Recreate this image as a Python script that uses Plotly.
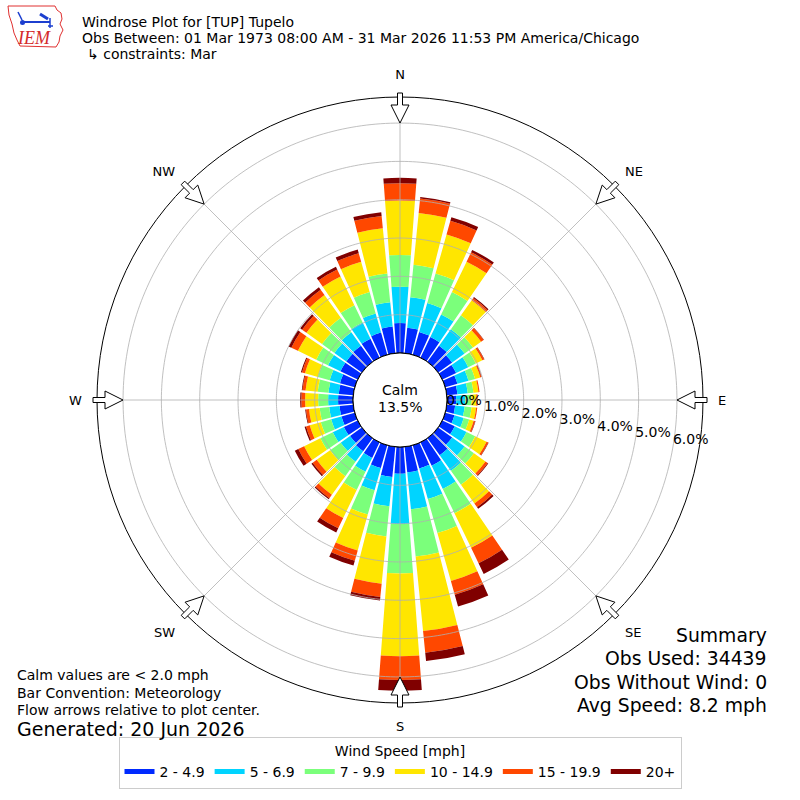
import numpy as np
import plotly.graph_objects as go

FONT = "DejaVu Sans"

directions = list(range(0, 360, 10))
speed_labels = ["2 - 4.9", "5 - 6.9", "7 - 9.9", "10 - 14.9", "15 - 19.9", "20+"]
speed_colors = ["#002aff", "#00d4ff", "#7bff7b", "#ffe600", "#ff4800", "#800000"]

# percent of all obs, per 10 deg direction bin (0, 10, ... 350), one list per speed bin
spd_2_5 = [0.78, 0.67, 0.62, 0.60, 0.52, 0.45, 0.40, 0.33, 0.28, 0.24, 0.22, 0.25,
           0.36, 0.45, 0.55, 0.68, 0.63, 0.67, 0.70, 0.79, 0.62, 0.45, 0.42, 0.38,
           0.40, 0.36, 0.36, 0.39, 0.38, 0.40, 0.50, 0.50, 0.52, 0.55, 0.60, 0.70]
spd_5_7 = [0.95, 0.80, 0.78, 0.65, 0.53, 0.40, 0.35, 0.30, 0.27, 0.24, 0.25, 0.25,
           0.34, 0.40, 0.50, 0.67, 0.83, 0.97, 1.31, 0.77, 0.60, 0.40, 0.34, 0.30,
           0.32, 0.28, 0.27, 0.26, 0.27, 0.28, 0.36, 0.38, 0.43, 0.47, 0.52, 0.64]
spd_7_10 = [0.83, 0.85, 0.80, 0.65, 0.45, 0.27, 0.22, 0.18, 0.15, 0.16, 0.18, 0.15,
            0.25, 0.30, 0.45, 0.70, 0.92, 1.24, 1.29, 0.79, 0.66, 0.53, 0.46, 0.34,
            0.36, 0.28, 0.25, 0.26, 0.28, 0.32, 0.34, 0.40, 0.47, 0.50, 0.58, 0.75]
spd_10_15 = [1.42, 1.36, 1.06, 0.88, 0.48, 0.26, 0.19, 0.14, 0.13, 0.13, 0.12, 0.12,
             0.33, 0.37, 0.60, 1.00, 1.30, 1.95, 2.16, 1.24, 0.97, 0.81, 0.60, 0.43,
             0.47, 0.30, 0.28, 0.34, 0.32, 0.35, 0.53, 0.50, 0.73, 0.83, 0.82, 1.19]
spd_15_20 = [0.45, 0.38, 0.37, 0.27, 0.07, 0.08, 0.05, 0.03, 0.03, 0.03, 0.03, 0.04,
             0.05, 0.07, 0.12, 0.45, 0.37, 0.57, 0.62, 0.35, 0.28, 0.30, 0.11, 0.13,
             0.17, 0.10, 0.08, 0.10, 0.08, 0.08, 0.19, 0.14, 0.17, 0.20, 0.23, 0.32]
spd_20 = [0.14, 0.04, 0.10, 0.07, 0.03, 0.01, 0.01, 0.01, 0.00, 0.00, 0.00, 0.01,
          0.01, 0.02, 0.05, 0.31, 0.32, 0.22, 0.28, 0.09, 0.13, 0.12, 0.03, 0.04,
          0.10, 0.04, 0.02, 0.03, 0.02, 0.03, 0.08, 0.06, 0.08, 0.08, 0.10, 0.10]
series = [spd_2_5, spd_5_7, spd_7_10, spd_10_15, spd_15_20, spd_20]

tick_vals = [0, 1, 2, 3, 4, 5, 6]
tick_text = ["0.0%", "1.0%", "2.0%", "3.0%", "4.0%", "5.0%", "6.0%"]
r_max = 6.68

compass_angles = [0, 45, 90, 135, 180, 225, 270, 315]
compass_labels = ["N", "NE", "E", "SE", "S", "SW", "W", "NW"]

title_lines = ["Windrose Plot for [TUP] Tupelo",
               "Obs Between: 01 Mar 1973 08:00 AM - 31 Mar 2026 11:53 PM America/Chicago",
               "↳ constraints: Mar"]
calm_pct = "13.5%"
notes = ["Calm values are < 2.0 mph", "Bar Convention: Meteorology",
         "Flow arrows relative to plot center."]
generated = "Generated: 20 Jun 2026"
summary = ["Summary", "Obs Used: 34439", "Obs Without Wind: 0", "Avg Speed: 8.2 mph"]

# page geometry (px): polar centre and outer radius
CX, CY, R = 400, 400, 303
HOLE = 47


def paper(x, y):
    return x / 800, 1 - y / 800


fig = go.Figure()

for name, color, vals in zip(speed_labels, speed_colors, series):
    fig.add_trace(go.Barpolar(r=vals, theta=directions, width=8.6, name=name,
                              marker=dict(color=color, line=dict(width=0)),
                              showlegend=False))

# grid drawn over the bars like the original
ring = np.linspace(0, 360, 361)
for v in tick_vals[1:]:
    fig.add_trace(go.Scatterpolar(r=[v] * len(ring), theta=ring, mode="lines",
                                  line=dict(color="#b0b0b0", width=0.8),
                                  showlegend=False, hoverinfo="skip"))
for a in compass_angles:
    fig.add_trace(go.Scatterpolar(r=[0, r_max], theta=[a, a], mode="lines",
                                  line=dict(color="#b0b0b0", width=0.8),
                                  showlegend=False, hoverinfo="skip"))
fig.add_trace(go.Scatterpolar(r=[0] * len(ring), theta=ring, mode="lines",
                              line=dict(color="black", width=1),
                              showlegend=False, hoverinfo="skip"))

# radial tick labels
fig.add_trace(go.Scatterpolar(r=tick_vals, theta=[99.8] * len(tick_vals), mode="text",
                              text=tick_text, textposition="top right",
                              textfont=dict(family=FONT, size=14, color="black"),
                              showlegend=False, hoverinfo="skip"))

# legend entries as wide swatches
for name, color in zip(speed_labels, speed_colors):
    fig.add_trace(go.Scatterpolar(r=[None], theta=[None], mode="lines", name=name,
                                  line=dict(color=color, width=10)))

shapes = []
# flow arrows at the compass points
arrow = [(307, -2.5), (295, -2.5), (295, -9), (277, 0), (295, 9), (295, 2.5), (307, 2.5)]
for a in compass_angles:
    t = np.radians(a)
    pts = []
    for rr, vv in arrow:
        x = CX + rr * np.sin(t) + vv * np.cos(t)
        y = CY - rr * np.cos(t) + vv * np.sin(t)
        pts.append(paper(x, y))
    path = "M" + " L".join(f"{px:.5f},{py:.5f}" for px, py in pts) + " Z"
    shapes.append(dict(type="path", path=path, xref="paper", yref="paper",
                       fillcolor="white", line=dict(color="black", width=1)))

# rough IEM logo
iowa = [(8, 6), (55, 6), (57, 10), (61, 13), (62, 19), (60, 24), (63, 30), (60, 36),
        (59, 42), (56, 47), (20, 46), (17, 40), (14, 33), (12, 24), (9, 15)]
path = "M" + " L".join("%.5f,%.5f" % paper(x, y) for x, y in iowa) + " Z"
shapes.append(dict(type="path", path=path, xref="paper", yref="paper",
                   line=dict(color="#e03030", width=1)))
for (x0, y0, x1, y1, w) in [(22, 22, 50, 22, 2), (18, 12, 22, 20, 1.5), (40, 14, 48, 19, 3),
                            (50, 18, 50, 28, 1.5), (48, 26, 53, 26, 1.5)]:
    a0, b0 = paper(x0, y0)
    a1, b1 = paper(x1, y1)
    shapes.append(dict(type="line", x0=a0, y0=b0, x1=a1, y1=b1, xref="paper", yref="paper",
                       line=dict(color="#1c3fcf", width=w)))
a0, b0 = paper(20, 20)
a1, b1 = paper(25, 25)
shapes.append(dict(type="circle", x0=a0, y0=b0, x1=a1, y1=b1, xref="paper", yref="paper",
                   fillcolor="#1c3fcf", line=dict(width=0)))

annotations = []


def note(text, x, y, size=14, anchor="left", **kw):
    px_, py_ = paper(x, y)
    annotations.append(dict(text=text, x=px_, y=py_, xref="paper", yref="paper",
                            xanchor=anchor, yanchor="middle", showarrow=False,
                            font=dict(family=FONT, size=size, color="black"), **kw))


for i, line in enumerate(title_lines):
    note(line, 84.5 if i == 2 else 80, 22 + 16 * i)
note("<i>IEM</i>", 15, 38, size=18)
annotations[-1]["font"] = dict(family="Liberation Serif", size=18, color="#d42a2a")
note("Calm", CX, 390, anchor="center")
note(calm_pct, CX, 407, anchor="center")
for i, line in enumerate(notes):
    note(line, 15, 675 + 17.5 * i)
note(generated, 15, 729, size=19)
for i, line in enumerate(summary):
    note(line, 769, 635 + 23.5 * i, size=18.8, anchor="right")

dom = [(CX - R) / 800, (CX + R) / 800]
fig.update_layout(
    width=800, height=800,
    margin=dict(l=0, r=0, t=0, b=0),
    paper_bgcolor="white",
    font=dict(family=FONT, size=14, color="black"),
    polar=dict(
        domain=dict(x=dom, y=dom),
        hole=HOLE / R,
        bgcolor="white",
        barmode="stack",
        radialaxis=dict(range=[0, r_max], showgrid=False, showline=False,
                        showticklabels=False, ticks=""),
        angularaxis=dict(rotation=90, direction="clockwise", tickmode="array",
                         tickvals=compass_angles, ticktext=compass_labels,
                         showgrid=False, showline=True, linecolor="black", linewidth=1,
                         ticks="outside", ticklen=12, tickcolor="rgba(0,0,0,0)",
                         tickfont=dict(family=FONT, size=13, color="black")),
    ),
    legend=dict(orientation="h", x=0.5, xanchor="center", y=0.014, yanchor="bottom",
                title=dict(text="Wind Speed [mph]", side="top center",
                           font=dict(family=FONT, size=14)),
                font=dict(family=FONT, size=14),
                bordercolor="#cccccc", borderwidth=1, bgcolor="white",
                itemsizing="constant"),
    shapes=shapes,
    annotations=annotations,
)

fig.write_html("out.html", config={"displayModeBar": False},
               post_script="document.body.style.margin = '0px';")
